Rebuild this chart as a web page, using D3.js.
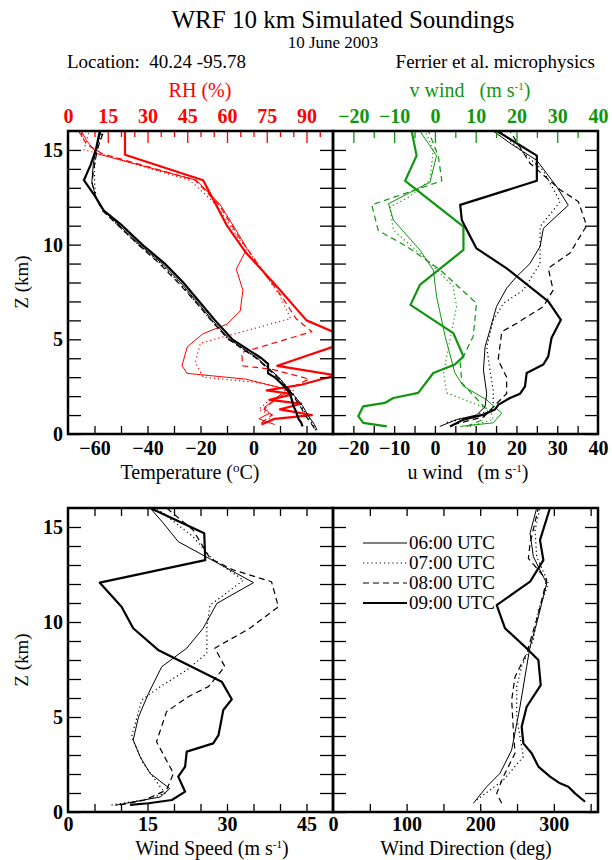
<!DOCTYPE html>
<html>
<head>
<meta charset="utf-8">
<script src="https://cdn.jsdelivr.net/npm/d3@7"></script>
<style>
  html, body { margin: 0; padding: 0; background: #fff; }
  svg { display: block; font-family: "Liberation Serif", "Times New Roman", serif; }
</style>
</head>
<body>
<svg id="chart" width="612" height="860"></svg>
<script>
// each profile: [height km, value]
const times = ['06:00 UTC', '07:00 UTC', '08:00 UTC', '09:00 UTC'];

const temp06 = [[0.2,24],[0.5,23],[1.0,20.5],[1.5,18.5],[2.0,15.5],[2.5,12.5],[3.0,9.5],[3.5,5.5],[4.0,1.5],[5.0,-9],[6.0,-15.5],[7.0,-21.5],[8.0,-27.5],[9.0,-34.5],[10.0,-43],[11.0,-50.5],[11.8,-56.5],[12.5,-59.5],[13.3,-61],[14.2,-60.5],[15.0,-59.5],[16.0,-57.5]];
const temp07 = [[0.2,23.5],[0.5,22.5],[1.0,20],[1.5,18],[2.0,15.5],[2.5,12.5],[3.0,9.5],[3.5,5.5],[4.0,1.5],[5.0,-9.5],[6.0,-16],[7.0,-22],[8.0,-28],[9.0,-35],[10.0,-43.5],[11.0,-51],[11.8,-57],[12.5,-59.5],[13.3,-60],[14.2,-60],[15.0,-59],[16.0,-57]];
const temp08 = [[0.3,23],[0.5,22],[1.0,19.5],[1.5,17.5],[2.0,15],[2.5,12],[3.0,9],[3.5,5],[4.0,1],[5.0,-9.5],[6.0,-16],[7.0,-22],[8.0,-28.5],[9.0,-35.5],[10.0,-43.5],[11.0,-51],[11.8,-57],[12.5,-59.5],[13.3,-61],[14.2,-60],[15.0,-59],[16.0,-56.5]];
const temp09 = [[0.4,18.5],[0.6,18],[0.8,17],[1.0,16.5],[1.2,16],[1.5,15],[1.8,14.5],[2.2,13.5],[2.6,11],[3.0,8],[3.2,5.5],[3.7,5.5],[4.0,3],[5.0,-8],[6.0,-14.5],[7.0,-20.5],[8.0,-26.5],[9.0,-33.5],[10.0,-42],[11.0,-49.5],[11.8,-56.5],[12.6,-60],[13.4,-64],[14.2,-61.5],[15.0,-59.5],[16.0,-58]];

const rh06 = [[0.5,78],[0.8,72],[1.1,76],[1.4,74],[1.8,78],[2.3,84],[2.9,67],[3.2,45],[3.6,43],[4.6,45],[5.3,51],[5.8,60],[6.5,65],[7.6,66],[8.7,63.5],[9.8,67.5],[10.4,65],[12.1,57.5],[13.4,48.5],[14.8,11],[15.5,7],[16.0,5]];
const rh07 = [[0.6,75],[1.0,77],[1.3,72],[1.8,76],[2.3,85],[2.7,72.5],[3.0,51],[3.8,48],[4.8,50],[5.6,71],[6.1,84],[7.3,80],[8.5,74],[9.8,67.5],[10.4,64],[12.1,56],[13.4,46],[14.8,12],[15.0,6],[16.0,8]];
const rh08 = [[0.6,73],[1.0,77],[1.3,74],[1.8,78],[2.3,82],[2.9,91],[3.4,77.5],[3.6,66],[4.3,65.5],[5.4,92],[6.1,86],[7.3,80.5],[8.5,74],[9.8,67.5],[10.4,64.5],[12.1,57],[13.4,48],[14.8,13],[15.3,7],[16.0,4]];
const rh09 = [[0.5,73],[0.8,78],[1.0,92],[1.3,80],[1.6,88],[1.8,76],[2.1,85],[2.3,75],[2.6,88],[3.1,101],[3.6,79],[4.6,100],[5.0,104],[5.4,100],[6.0,90],[7.6,80],[9.6,67],[11.0,60],[13.4,51],[14.75,21.5],[16.0,21.5]];

const u06 = [[0.4,1.2],[0.76,5.3],[1.0,10.2],[1.44,12.3],[2.14,12.7],[3.37,11.9],[4.6,12.3],[5.5,13.5],[6.73,15.1],[7.7,17.6],[8.3,20],[9.0,23.3],[9.9,25.8],[10.86,26.6],[12.08,32.7],[13.05,29.9],[14.45,25],[15.3,18.8],[16.0,14.3]];
const u07 = [[0.6,2.9],[0.95,9.4],[1.3,14.3],[2.3,14.3],[3.37,13.5],[4.6,12.7],[6.0,14.3],[6.9,16.8],[7.6,21.7],[9.0,25.8],[10.95,25.8],[12.27,30.7],[13.9,26.6],[15.0,20.9],[16.0,16]];
const u08 = [[0.5,4.5],[0.9,11.9],[1.6,15.1],[2.14,17.6],[3.0,17.6],[3.9,15.5],[5.4,16.4],[5.84,20],[6.73,26.6],[7.6,29],[8.75,27.8],[9.55,33.1],[11.0,37.2],[12.27,35.2],[12.9,30.7],[14.3,23.3],[16.0,18.4]];
const u09 = [[0.4,3.7],[0.76,7],[1.02,11.9],[1.29,14.7],[1.55,15.6],[1.9,18.4],[2.13,20.9],[2.52,22.1],[3.22,22.5],[3.67,26.6],[4.1,27.8],[5.07,28.6],[6.03,30.9],[7.0,27.8],[8.75,17.6],[9.8,10.2],[10.95,7.4],[11.3,6.6],[12.1,6.2],[13.37,25],[14.7,25],[16.0,15.2]];

const v06 = [[0.4,6.2],[0.59,14.3],[1.1,16.4],[1.8,12.7],[2.52,7],[3.22,4.9],[5.16,2.5],[7.26,0.4],[8.66,-0.4],[9.72,-3.7],[11.3,-10.2],[12.16,-11.4],[13.3,-1.2],[14.7,0.4],[16.0,-3.7]];
const v07 = [[0.4,8.6],[0.77,14.3],[1.29,13.5],[2.17,2.9],[3.22,2.1],[6.73,5.3],[7.8,4.5],[9.2,-2],[10.77,-10.2],[12.0,-11],[12.44,-6.9],[13.4,-1.2],[15.0,-0.4],[16.0,-2.4]];
const v08 = [[0.4,7.8],[0.77,11.9],[1.29,12.7],[2.7,6.6],[3.75,6.2],[5.16,9.4],[6.9,10.2],[8.66,1.3],[9.9,-6.9],[10.75,-13.9],[12.1,-15.5],[13.37,1.7],[14.7,0.8],[16.0,-1.6]];
const v09 = [[0.4,-11.8],[0.59,-17.6],[0.94,-18.8],[1.46,-17.6],[1.64,-12.3],[1.9,-10.2],[2.17,-4.1],[3.22,-0.4],[3.67,4.9],[4.1,7],[5.33,4.5],[6.82,-6],[7.87,-3.7],[9.72,7],[10.95,7],[13.37,-7.3],[14.7,-4.5],[16.0,-5.7]];

const spd06 = [[0.35,8.9],[0.53,12.3],[0.79,17.4],[1.23,19.2],[2.03,15.5],[2.91,13.6],[3.79,12.3],[5.0,13.3],[6.25,15.2],[7.65,17.7],[8.62,22.4],[9.67,25.5],[10.98,28.1],[12.07,35],[14.23,20.8],[15.2,18],[16.0,15.5]];
const spd07 = [[0.37,8.2],[0.63,14.2],[0.98,18.3],[2.56,14.2],[3.96,12],[5.89,13.9],[6.6,17.4],[7.47,22.4],[8.35,26.2],[9.75,26.2],[10.89,26.8],[12.2,33.1],[13.35,27.1],[14.49,23.6],[16.0,16.7]];
const spd08 = [[0.37,9.8],[0.63,14.5],[1.16,18.6],[2.03,19.9],[3.7,16.7],[5.28,18.6],[6.07,22.7],[6.6,26.5],[7.65,29.6],[8.62,27.7],[9.67,34.3],[10.8,39.7],[12.12,38.4],[12.74,31.2],[13.35,26.8],[14.84,23.6],[16.0,18.6]];
const spd09 = [[0.37,11.7],[0.46,15.2],[0.63,19.6],[1.07,22.1],[1.86,20.8],[2.39,22.1],[3.18,22.4],[3.61,27.4],[4.05,28.4],[5.37,29.3],[5.93,30.9],[6.86,29],[8.53,17],[9.67,12.3],[10.8,10.1],[12.07,6],[13.26,25.9],[14.67,25.7],[16.0,15.5]];

const dir06 = [[0.46,190.7],[1.33,208.8],[2.04,226.9],[3.26,242.7],[5.54,254],[7.65,263.1],[8.7,267.7],[9.93,276.7],[12.03,290.3],[13.44,272.2],[14.67,267.7],[16.0,276.7]];
const dir07 = [[0.63,195.2],[1.16,213.3],[1.68,231.4],[2.91,258.6],[5.02,249.5],[6.6,249.5],[7.65,256.3],[9.05,272.2],[10.63,279],[12.03,292.6],[13.44,276.7],[14.84,274.5],[16.0,281.2]];
const dir08 = [[0.46,229.2],[0.98,222.4],[1.86,231.4],[3.09,247.3],[4.32,245],[5.89,242.7],[7.12,247.3],[8.35,263.1],[10.45,279],[12.21,290.3],[13.35,265.4],[14.14,267.7],[16.0,279]];
const dir09 = [[0.54,342.4],[0.98,328.8],[1.33,319.7],[1.51,308.4],[1.86,294.8],[2.39,279],[3.09,269.9],[3.61,258.6],[4.49,256.3],[5.54,263.1],[6.68,282.2],[8.0,279],[8.53,265.4],[9.67,233.7],[10.89,222.4],[12.12,267.7],[13.26,285.8],[14.31,281.2],[16.0,294.8]];

const zTicks = d3.range(0, 16);
const zLabels = [0, 5, 10, 15];
const tempLabels = [-60, -40, -20, 0, 20];
const rhLabels = [0, 15, 30, 45, 60, 75, 90];
const windLabels = [-20, -10, 0, 10, 20, 30, 40];
const spdLabels = [0, 15, 30, 45];
const dirLabels = [0, 100, 200, 300];

const RED = '#ff0000';
const GREEN = '#0f960f';
const FONT_BOLD = 20;

const lineStyles = [
  { width: 1, dash: null },
  { width: 1.2, dash: '1.2,3' },
  { width: 1.2, dash: '6,4' },
  { width: 2.2, dash: null },
];

const svg = d3.select('#chart');

const zTop = d3.scaleLinear([0, 16], [434, 131]);
const zBot = d3.scaleLinear([0, 16], [812, 508]);
const xTemp = d3.scaleLinear([-70, 30], [68, 333]);
const xRH = d3.scaleLinear([0, 100], [68, 333]);
const xWind = d3.scaleLinear([-25, 40], [333, 598]);
const xSpd = d3.scaleLinear([0, 50], [68, 333]);
const xDir = d3.scaleLinear([0, 360], [333, 598]);

// clip paths for each panel
const defs = svg.append('defs');
function clip(id, x0, x1, y0, y1) {
  defs.append('clipPath').attr('id', id)
    .append('rect').attr('x', x0).attr('y', y0).attr('width', x1 - x0).attr('height', y1 - y0);
  return `url(#${id})`;
}
const clipTL = clip('c-tl', 68, 333, 131, 434);
const clipTR = clip('c-tr', 333, 598, 131, 434);
const clipBL = clip('c-bl', 68, 333, 508, 812);
const clipBR = clip('c-br', 333, 598, 508, 812);

function drawProfiles(series, xScale, zScale, color, clipUrl) {
  const line = d3.line().x((d) => xScale(d[1])).y((d) => zScale(d[0]));
  const g = svg.append('g').attr('clip-path', clipUrl);
  series.forEach((data, i) => {
    const st = lineStyles[i];
    g.append('path')
      .attr('d', line(data))
      .attr('fill', 'none')
      .attr('stroke', color)
      .attr('stroke-width', st.width)
      .attr('stroke-dasharray', st.dash)
      .attr('stroke-linejoin', 'round');
  });
}

function styleAxis(g, color, size) {
  g.select('.domain').remove();
  g.selectAll('line').attr('stroke', color).attr('stroke-width', 1.3);
  g.selectAll('text')
    .attr('fill', color)
    .attr('font-family', '"Liberation Serif", "Times New Roman", serif')
    .attr('font-weight', 'bold')
    .attr('font-size', size || FONT_BOLD);
}

// x axis with minor ticks; labels only on labelled values
function xAxis(axisFn, scale, y, minorStep, majorVals, color, majorLen, minorLen, pad, withLabels) {
  const [d0, d1] = scale.domain();
  const minor = d3.range(Math.ceil(d0 / minorStep) * minorStep, d1 + 1e-9, minorStep)
    .filter((v) => v > d0 && v < d1 && !majorVals.includes(v));
  const gMinor = svg.append('g').attr('transform', `translate(0,${y})`)
    .call(axisFn(scale).tickValues(minor).tickSize(-minorLen).tickFormat(''));
  styleAxis(gMinor, color);
  const gMajor = svg.append('g').attr('transform', `translate(0,${y})`)
    .call(axisFn(scale).tickValues(majorVals).tickSize(-majorLen).tickPadding(pad)
      .tickFormat(withLabels ? d3.format('d') : ''));
  styleAxis(gMajor, color);
  gMajor.selectAll('line').filter((d) => d <= d0 || d >= d1).remove();
  return gMajor;
}

function zAxes(zScale, xLeft, xRight, labels) {
  const gl = svg.append('g').attr('transform', `translate(${xLeft},0)`)
    .call(d3.axisLeft(zScale).tickValues(zTicks).tickSize(-13).tickPadding(5)
      .tickFormat((d) => (labels && zLabels.includes(d) ? d : '')));
  styleAxis(gl, '#000');
  const gr = svg.append('g').attr('transform', `translate(${xRight},0)`)
    .call(d3.axisRight(zScale).tickValues(zTicks).tickSize(-13).tickFormat(''));
  styleAxis(gr, '#000');
}

function frame(x0, x1, y0, y1) {
  svg.append('rect')
    .attr('x', x0).attr('y', y0).attr('width', x1 - x0).attr('height', y1 - y0)
    .attr('fill', 'none').attr('stroke', '#000').attr('stroke-width', 2.5);
}

// ---- curves ----
drawProfiles([rh06, rh07, rh08, rh09], xRH, zTop, RED, clipTL);
drawProfiles([temp06, temp07, temp08, temp09], xTemp, zTop, '#000', clipTL);
drawProfiles([v06, v07, v08, v09], xWind, zTop, GREEN, clipTR);
drawProfiles([u06, u07, u08, u09], xWind, zTop, '#000', clipTR);
drawProfiles([spd06, spd07, spd08, spd09], xSpd, zBot, '#000', clipBL);
drawProfiles([dir06, dir07, dir08, dir09], xDir, zBot, '#000', clipBR);

// ---- axes ----
zAxes(zTop, 68, 333, true);
zAxes(zTop, 333, 598, false);
zAxes(zBot, 68, 333, true);
zAxes(zBot, 333, 598, false);

xAxis(d3.axisTop, xRH, 131, 5, rhLabels, RED, 12, 6, 8, true);
xAxis(d3.axisTop, xWind, 131, 5, windLabels, GREEN, 12, 7, 8, true);
xAxis(d3.axisBottom, xTemp, 434, 10, tempLabels, '#000', 8, 8, 7, true);
xAxis(d3.axisBottom, xWind, 434, 5, windLabels, '#000', 8, 8, 7, true);

xAxis(d3.axisTop, xSpd, 508, 5, spdLabels, '#000', 8, 8, 8, false);
xAxis(d3.axisTop, xDir, 508, 50, dirLabels, '#000', 8, 8, 8, false);
xAxis(d3.axisBottom, xSpd, 812, 5, spdLabels, '#000', 8, 8, 5, true);
xAxis(d3.axisBottom, xDir, 812, 50, dirLabels, '#000', 8, 8, 5, true);

frame(68, 333, 131, 434);
frame(333, 598, 131, 434);
frame(68, 333, 508, 812);
frame(333, 598, 508, 812);

// ---- texts ----
function text(x, y, str, size, opts = {}) {
  return svg.append('text')
    .attr('x', x).attr('y', y)
    .attr('text-anchor', opts.anchor || 'middle')
    .attr('font-size', size)
    .attr('fill', opts.color || '#000')
    .text(str);
}
function unitsLabel(x, y, prefix, color) {
  const t = text(x, y, prefix, 20, { color });
  t.append('tspan').text('(m s');
  t.append('tspan').attr('font-size', 11).attr('dy', -7).text('-1');
  t.append('tspan').attr('dy', 7).text(')');
  return t;
}

text(343, 28, 'WRF 10 km Simulated Soundings', 25);
text(333, 48, '10 June 2003', 17);
text(67, 68, 'Location:  40.24 -95.78', 19, { anchor: 'start' }).attr('xml:space', 'preserve');
text(595, 68, 'Ferrier et al. microphysics', 19, { anchor: 'end' });

text(200, 97, 'RH (%)', 20, { color: RED });
unitsLabel(470, 97, 'v wind   ', GREEN).attr('xml:space', 'preserve');

const tLabel = text(190, 479, 'Temperature (', 20);
tLabel.append('tspan').attr('font-size', 13).attr('dy', -7).text('o');
tLabel.append('tspan').attr('dy', 7).text('C)');
unitsLabel(468, 479, 'u wind   ').attr('xml:space', 'preserve');

unitsLabel(212, 855, 'Wind Speed ');
text(466, 855, 'Wind Direction (deg)', 20);

[282, 660].forEach((cy) => {
  svg.append('text')
    .attr('transform', `translate(28,${cy}) rotate(-90)`)
    .attr('text-anchor', 'middle')
    .attr('font-size', 19)
    .text('Z (km)');
});

// ---- legend ----
const legend = svg.append('g');
times.forEach((label, i) => {
  const st = lineStyles[i];
  const y = 543 + i * 20;
  legend.append('line')
    .attr('x1', 363).attr('x2', 407).attr('y1', y).attr('y2', y)
    .attr('stroke', '#000').attr('stroke-width', st.width)
    .attr('stroke-dasharray', st.dash);
  legend.append('text')
    .attr('x', 409).attr('y', y + 6)
    .attr('font-size', 19)
    .text(label);
});
</script>
</body>
</html>
